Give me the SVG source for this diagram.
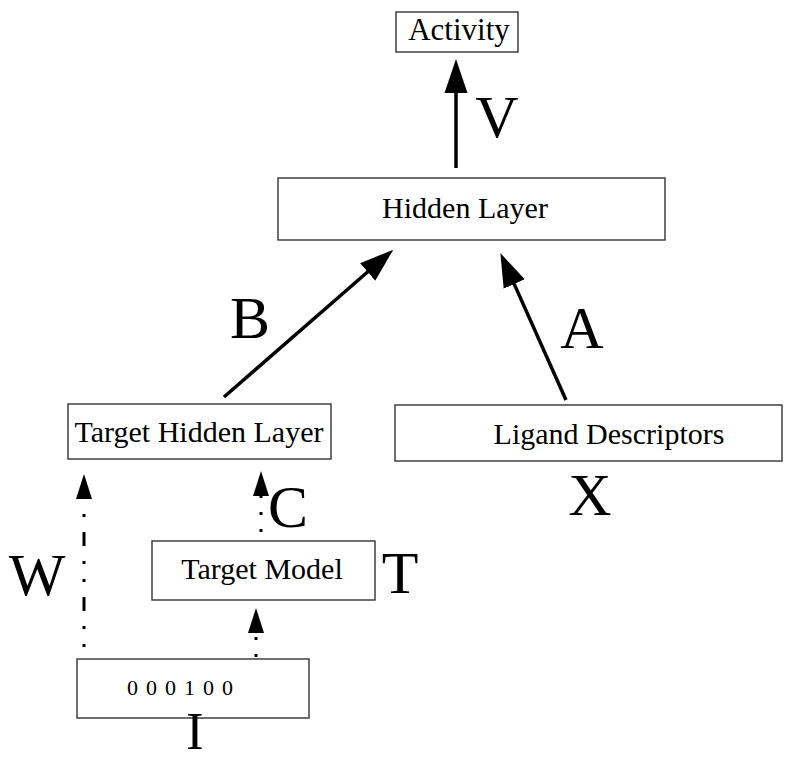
<svg xmlns="http://www.w3.org/2000/svg" width="798" height="760" viewBox="0 0 798 760">
<style>
.box{fill:#fff;stroke:#333;stroke-width:1.4}
.t{font-size:30px;fill:#000;text-anchor:middle}
.lab{font-size:60px;fill:#000;text-anchor:middle}
.solid{stroke:#000;stroke-width:3.5;fill:none}
.dashdot{stroke:#000;stroke-width:3;fill:none;stroke-dasharray:3 15 3 15 14 15}
.dot{stroke:#000;stroke-width:3;fill:none;stroke-dasharray:3 14}
</style>
<defs>
<marker id="big" markerUnits="userSpaceOnUse" markerWidth="36" markerHeight="26" viewBox="0 -13 36 26" refX="1" refY="0" orient="auto">
<path d="M0,-11.5 L34,0 L0,11.5 Z" fill="#000"/>
</marker>
<marker id="small" markerUnits="userSpaceOnUse" markerWidth="27" markerHeight="18" viewBox="0 -9 27 18" refX="1" refY="0" orient="auto">
<path d="M0,-8 L25,0 L0,8 Z" fill="#000"/>
</marker>
</defs>
<g id="connectors">
<line class="solid" x1="456" y1="168" x2="456" y2="92" marker-end="url(#big)"/>
<line class="solid" x1="224" y1="397" x2="368.4" y2="271.3" marker-end="url(#big)"/>
<line class="solid" x1="566" y1="400" x2="513.8" y2="283.1" marker-end="url(#big)"/>
<line class="dashdot" x1="84" y1="647" x2="84" y2="498" marker-end="url(#small)"/>
<line class="dot" x1="261" y1="532" x2="261" y2="495" marker-end="url(#small)"/>
<line class="dot" x1="256" y1="657" x2="256" y2="632" marker-end="url(#small)"/>
</g>
<g font-family="Liberation Serif, serif">
<g id="activity">
<rect class="box" x="396" y="12" width="122" height="40"/>
<text class="t" x="459" y="40" style="font-size:31px">Activity</text>
</g>
<g id="hidden-layer">
<rect class="box" x="278" y="178" width="387" height="62"/>
<text class="t" x="465" y="218">Hidden Layer</text>
</g>
<g id="target-hidden-layer">
<rect class="box" x="68" y="404" width="263" height="55"/>
<text class="t" x="199" y="442">Target Hidden Layer</text>
</g>
<g id="ligand-descriptors">
<rect class="box" x="395" y="405" width="387" height="56"/>
<text class="t" x="609" y="444">Ligand Descriptors</text>
</g>
<g id="target-model">
<rect class="box" x="152" y="541" width="223" height="59"/>
<text class="t" x="262" y="579">Target Model</text>
</g>
<g id="input">
<rect class="box" x="77" y="659" width="232" height="59"/>
<text class="t" x="127" y="695" style="text-anchor:start;font-size:22px;letter-spacing:8px">000100</text>
</g>
<g id="labels">
<text class="lab" x="497" y="137">V</text>
<text class="lab" x="250" y="338">B</text>
<text class="lab" x="582" y="348">A</text>
<text class="lab" x="590" y="515">X</text>
<text class="lab" x="288" y="527">C</text>
<text class="lab" x="37" y="595">W</text>
<text class="lab" x="400" y="593">T</text>
<text class="lab" x="195" y="748.5" style="font-size:52px">I</text>
</g>
</g>
</svg>
